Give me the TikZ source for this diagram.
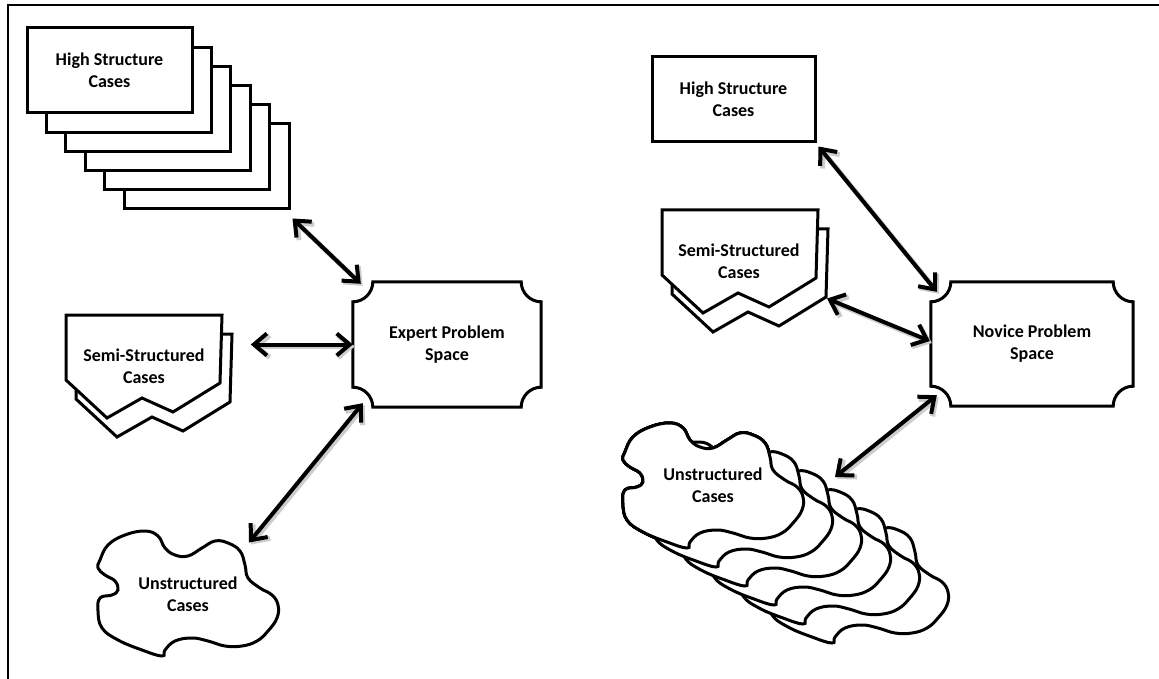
\documentclass[tikz,border=0pt]{standalone}
\usepackage{fontspec}
\setmainfont{Carlito}
\usetikzlibrary{arrows.meta,calc}

% box with concave (scooped) corners round a named node
\newcommand{\notchbox}[1]{%
\draw[shapeline] ($(#1.north west)+(20,0)$) -- ($(#1.north east)+(-20,0)$)
  .. controls ($(#1.north east)+(-20,11)$) and ($(#1.north east)+(-11,20)$) .. ($(#1.north east)+(0,20)$)
  -- ($(#1.south east)+(0,-20)$)
  .. controls ($(#1.south east)+(-11,-20)$) and ($(#1.south east)+(-20,-11)$) .. ($(#1.south east)+(-20,0)$)
  -- ($(#1.south west)+(20,0)$)
  .. controls ($(#1.south west)+(20,-11)$) and ($(#1.south west)+(11,-20)$) .. ($(#1.south west)+(0,-20)$)
  -- ($(#1.north west)+(0,20)$)
  .. controls ($(#1.north west)+(11,20)$) and ($(#1.north west)+(20,11)$) .. cycle;}

% semi-structured sheet, #1 = top left corner
\newcommand{\semisheet}[1]{%
\draw[shapeline, shift={#1}] (0,0) -- (156,0) -- (154,68) -- (107,97) -- (76,83) -- (41,103) -- (0,65) -- cycle;}

% unstructured blob, #1 = top left of its box
\newcommand{\blobsheet}[1]{%
\draw[shapeline, shift={#1}] plot[smooth cycle, tension=0.7] coordinates {
  (2,29) (10,14) (27,4) (47,0) (60,5) (67,17) (77,24) (90,25) (104,17) (117,10)
  (130,12) (142,20) (147,34) (150,47) (162,57) (174,64) (180,74) (179,87) (170,100)
  (159,110) (144,115) (127,115) (110,110) (94,107) (77,110) (67,119) (64,125)
  (44,119) (20,109) (4,97) (0,80) (2,67) (14,64) (20,59) (17,50) (7,44) (0,37)};}

\begin{document}
\begin{tikzpicture}[x=1pt, y=-1pt, >={Straight Barb[length=13pt,width=22pt]},
  shapeline/.style={line width=3pt, fill=white},
  casebox/.style={shapeline, draw, minimum width=165pt, minimum height=85pt, inner sep=0pt},
  txt/.style={font=\bfseries\fontsize{18}{22}\selectfont, align=center, inner sep=0pt},
  link/.style={<->, line width=4pt,
    preaction={draw=black!20, line width=5pt, transform canvas={shift={(2pt,-2pt)}}}}]
\useasboundingbox (0,0) rectangle (1159,679);
\draw[line width=2pt] (8,679) -- (8,5) -- (1159,5);

% expert side
\foreach \k in {5,...,1}
  \node[casebox] (hscL\k) at (109.5+19.4*\k, 70.5+19.2*\k) {};
\node[casebox, txt] (hscL0) at (109.5,70.5) {High Structure\\Cases};
\semisheet{(76,334)}
\semisheet{(66,315)}
\node[txt] (semiL) at (144,366.5) {Semi-Structured\\Cases};
\blobsheet{(98,531)}
\node[txt] (unsL) at (188,594.5) {Unstructured\\Cases};
\node[txt, minimum width=188pt, minimum height=125pt] (exp) at (447,344.5) {};
\notchbox{exp}
\node[txt] at (exp) {Expert Problem\\Space};

% novice side
\node[casebox, txt, minimum width=163pt] (hscR) at (733.5,99.5) {High Structure\\Cases};
\semisheet{(672,229)}
\semisheet{(662,210)}
\node[txt] (semiR) at (739,261.5) {Semi-Structured\\Cases};
\foreach \k in {5,...,1}
  \blobsheet{(623+29*\k, 423+19*\k)}
\blobsheet{(623,423)}
\node[txt] (unsR) at (713,485) {Unstructured\\Cases};
\node[txt, minimum width=202pt, minimum height=124pt] (nov) at (1032,344) {};
\notchbox{nov}
\node[txt] at (nov) {Novice Problem\\Space};

% links
\draw[link] ($(hscL5.south east)+(2,8)$) -- ($(exp.north west)+(8,2)$);
\draw[link] ($(exp.west)+(-102,0)$) -- (exp.west);
\draw[link] ($(unsL)+(61,-52)$) -- ($(exp.south west)+(10,-4)$);
\draw[link] ($(hscR.south east)+(2,3)$) -- ($(nov.north west)+(6,10)$);
\draw[link] ($(semiR)+(88,37)$) -- ($(nov.west)+(-1,-3)$);
\draw[link] ($(unsR)+(122,-8)$) -- ($(nov.south west)+(6,-11)$);
\end{tikzpicture}
\end{document}
